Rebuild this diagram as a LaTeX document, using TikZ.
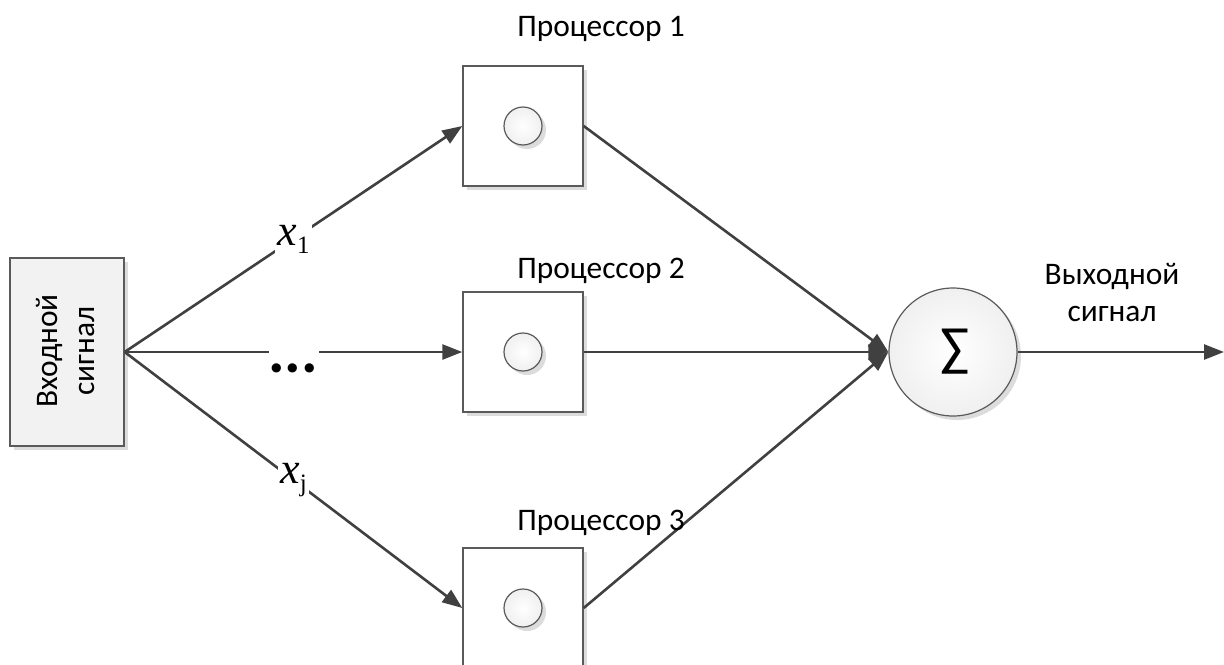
\documentclass[tikz,border=0pt]{standalone}
\usepackage{fontspec}
\setmainfont{Carlito}
\newfontfamily\mathserif{Liberation Serif}
\usetikzlibrary{arrows.meta,shadows}

\definecolor{linegray}{HTML}{404040}
\definecolor{boxgray}{HTML}{5A5A5A}
\definecolor{shadowgray}{HTML}{DCDCDC}
\definecolor{panelfill}{HTML}{F2F2F2}

\tikzset{
  conn/.style={draw=linegray, line width=1.3pt, -{Triangle[length=10pt,width=7.5pt]}},
  shadowed/.style={drop shadow={shadow xshift=2pt, shadow yshift=-2pt, fill=shadowgray, opacity=1}},
  inbox/.style={draw=boxgray, line width=0.7pt, fill=panelfill, shadowed,
    minimum width=57pt, minimum height=94pt, inner sep=0pt},
  procbox/.style={draw=boxgray, line width=0.7pt, fill=white, shadowed,
    minimum width=60pt, minimum height=60pt, inner sep=0pt},
  unit/.style={circle, draw=boxgray, line width=0.6pt, inner color=white, outer color=black!6,
    shadowed, minimum size=19pt, inner sep=0pt},
  summer/.style={circle, draw=boxgray, line width=0.6pt, inner color=white, outer color=black!6,
    shadowed, minimum size=64pt, inner sep=0pt},
  caption/.style={font=\fontsize{15.7pt}{18.5pt}\selectfont, align=center, inner sep=0pt},
  weight/.style={fill=white, inner sep=1pt, font=\fontsize{22pt}{22pt}\selectfont\mathserif\itshape},
}

\newcommand{\wsub}[1]{\raisebox{-0.4ex}{\upshape\fontsize{12.5pt}{13pt}\selectfont #1}}

\begin{document}
\begin{tikzpicture}[x=0.5pt,y=-0.5pt]
  \useasboundingbox (0,0) rectangle (1224,664);

  % input block
  \node[inbox] (in) at (67,352) {};
  \node[caption, rotate=90] (inlabel) at (66,351) {Входной\\сигнал};

  % processors
  \node[procbox] (p1) at (523,126) {};
  \node[procbox] (p2) at (523,352) {};
  \node[procbox] (p3) at (523,608) {};
  \node[unit] (c1) at (p1) {};
  \node[unit] (c2) at (p2) {};
  \node[unit] (c3) at (p3) {};

  % summing node
  \node[summer] (sum) at (953,352) {};
  \node[inner sep=0pt, font=\fontsize{27pt}{27pt}\selectfont] (sigma) at (955,352) {∑};
  \coordinate (out) at (1224,352);

  % connections from the input
  \draw[conn] (in.east) -- node[weight, pos=0.5] (w1) {x\wsub{1}} (p1.west);
  \draw[conn] (in.east) -- node[fill=white, inner sep=0pt, minimum width=25pt, minimum height=3pt, pos=0.5] (gap) {} (p2.west);
  \draw[conn] (in.east) -- node[weight, pos=0.5] (wj) {x\wsub{j}} (p3.west);
  \node[inner sep=0pt, font=\fontsize{31pt}{31pt}\selectfont\bfseries] (dots) at (293,368) {...};

  % connections into the summing node
  \draw[conn] (p1.east) -- (sum.west);
  \draw[conn] (p2.east) -- (sum.west);
  \draw[conn] (p3.east) -- (sum.west);
  \draw[conn] (sum.east) -- (out);

  % labels
  \node[caption] (l1) at (601,29) {Процессор 1};
  \node[caption] (l2) at (601,271) {Процессор 2};
  \node[caption] (l3) at (601,523) {Процессор 3};
  \node[caption] (outlabel) at (1112,293) {Выходной\\сигнал};
\end{tikzpicture}
\end{document}
